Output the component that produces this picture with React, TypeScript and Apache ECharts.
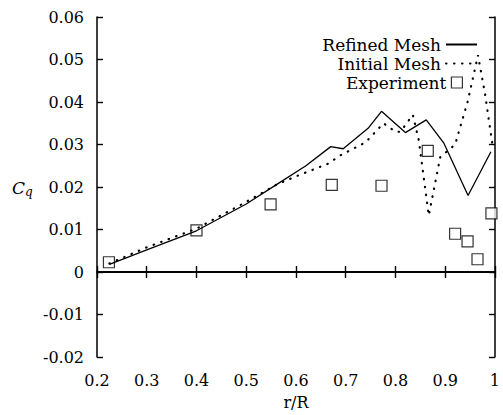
import React, { useEffect, useRef } from "react";
import * as echarts from "echarts";

const refinedMesh: [number, number][] = [
  [0.225, 0.0018], [0.3, 0.0052], [0.4, 0.0097], [0.5, 0.016], [0.56, 0.0205],
  [0.62, 0.025], [0.67, 0.0295], [0.695, 0.029], [0.745, 0.0338], [0.772, 0.0378],
  [0.82, 0.0328], [0.862, 0.0358], [0.897, 0.0304], [0.946, 0.018], [0.992, 0.0283],
];

const initialMesh: [number, number][] = [
  [0.225, 0.002], [0.3, 0.0058], [0.4, 0.0102], [0.5, 0.0165], [0.56, 0.0205],
  [0.6, 0.0225], [0.665, 0.0255], [0.69, 0.0275], [0.74, 0.0305], [0.776, 0.035],
  [0.8, 0.033], [0.81, 0.033], [0.835, 0.037], [0.847, 0.031], [0.867, 0.0133],
  [0.89, 0.027], [0.92, 0.03], [0.945, 0.04], [0.966, 0.051], [0.98, 0.042],
  [0.995, 0.03],
];

const experiment: [number, number][] = [
  [0.224, 0.0023], [0.4, 0.0098], [0.549, 0.0159], [0.672, 0.0205], [0.772, 0.0203],
  [0.865, 0.0285], [0.92, 0.009], [0.945, 0.0072], [0.965, 0.003], [0.993, 0.0138],
];

const xTicks = { min: 0.2, max: 1, interval: 0.1 };
const yTicks = { min: -0.02, max: 0.06, interval: 0.01 };

const FONT = "DejaVu Serif";

export default function App() {
  const ref = useRef<HTMLDivElement>(null);
  useEffect(() => {
    if (!ref.current) return;
    const chart = echarts.init(ref.current, null, { renderer: "svg" });
    const axisLine = { show: true, lineStyle: { color: "#000", width: 1.5 } };
    const tick = { show: true, inside: true, length: 6, lineStyle: { color: "#000", width: 1.4 } };
    const fmtY = (v: number) => {
      const r = Math.round(v * 100) / 100;
      return r === 0 ? "0" : r.toFixed(2);
    };
    const fmtX = (v: number) => {
      const r = Math.round(v * 10) / 10;
      return r === 1 ? "1" : r.toFixed(1);
    };
    const legendText = { fontFamily: FONT, fontSize: 17, color: "#000" };
    chart.setOption({
      animation: false,
      backgroundColor: "#fff",
      textStyle: { fontFamily: FONT, color: "#000" },
      grid: { left: 97, right: 3, top: 17, bottom: 55, containLabel: false },
      xAxis: [
        {
          type: "value", ...xTicks, position: "bottom",
          axisLine, axisTick: tick, splitLine: { show: false },
          axisLabel: { formatter: fmtX, color: "#000", fontFamily: FONT, fontSize: 16, margin: 15 },
          name: "r/R", nameLocation: "middle", nameGap: 37,
          nameTextStyle: { color: "#000", fontFamily: FONT, fontSize: 16 },
        },
        {
          type: "value", ...xTicks, position: "top",
          axisLine, axisTick: tick, splitLine: { show: false }, axisLabel: { show: false },
        },
      ],
      yAxis: [
        {
          type: "value", ...yTicks, position: "left",
          axisLine, axisTick: tick, splitLine: { show: false },
          axisLabel: { formatter: fmtY, color: "#000", fontFamily: FONT, fontSize: 16, margin: 13 },
        },
        {
          type: "value", ...yTicks, position: "right",
          axisLine, axisTick: tick, splitLine: { show: false }, axisLabel: { show: false },
        },
      ],
      legend: [
        {
          data: ["Refined Mesh"], right: 25, top: 36, padding: 0, align: "right", itemWidth: 31, itemHeight: 12,
          itemStyle: { opacity: 0 }, textStyle: legendText,
        },
        {
          data: ["Initial Mesh"], right: 25, top: 55, padding: 0, align: "right", itemWidth: 31, itemHeight: 12,
          itemStyle: { opacity: 0 }, textStyle: legendText,
        },
        {
          data: [{ name: "Experiment", icon: "rect" }], right: 40, top: 74, padding: 0, align: "right",
          itemWidth: 11, itemHeight: 11, textStyle: legendText,
          itemStyle: { color: "#fff", borderColor: "#000", borderWidth: 1.2 },
        },
      ],
      graphic: [
        {
          type: "text", left: 12, top: 179,
          style: {
            text: "{c|C}{q|q}",
            rich: {
              c: { fontFamily: FONT, fontStyle: "italic", fontSize: 17, fill: "#000" },
              q: { fontFamily: FONT, fontStyle: "italic", fontSize: 12, fill: "#000", padding: [8, 0, 0, 0] },
            },
          },
        },
      ],
      series: [
        {
          name: "Refined Mesh", type: "line", data: refinedMesh, showSymbol: false, symbol: "none",
          lineStyle: { color: "#000", width: 1.3 }, itemStyle: { color: "#000" },
          markLine: {
            silent: true, symbol: "none", label: { show: false },
            lineStyle: { color: "#000", width: 1.5, type: "solid" },
            data: [{ yAxis: 0 }],
          },
        },
        {
          name: "Initial Mesh", type: "line", data: initialMesh, showSymbol: false, symbol: "none",
          lineStyle: { color: "#000", width: 2.2, type: [0.5, 7.5], cap: "round" }, itemStyle: { color: "#000" },
        },
        {
          name: "Experiment", type: "scatter", data: experiment, symbol: "rect", symbolSize: 11,
          itemStyle: { color: "#fff", borderColor: "#000", borderWidth: 1.2 },
        },
      ],
    });
    return () => chart.dispose();
  }, []);
  return <div ref={ref} style={{ width: 503, height: 415, position: "fixed", left: 0, top: 0 }} />;
}
